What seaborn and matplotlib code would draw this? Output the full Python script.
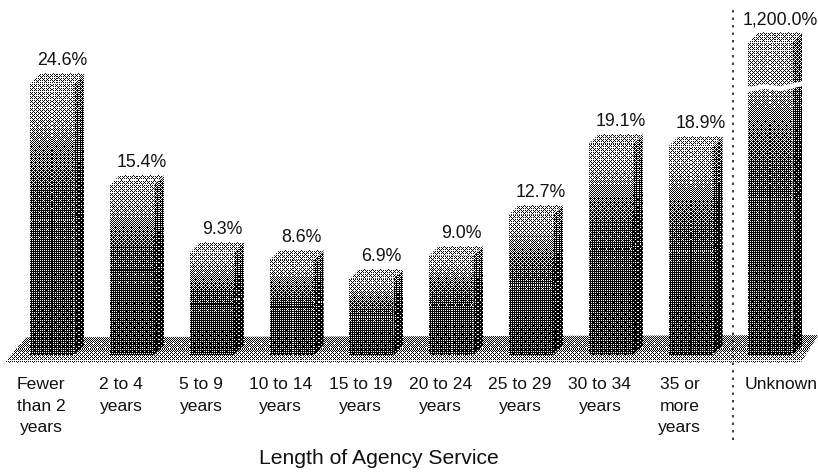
import numpy as np
import pandas as pd
import matplotlib.pyplot as plt
from matplotlib.patches import Polygon
import seaborn as sns

categories = ["Fewer\nthan 2\nyears", "2 to 4\nyears", "5 to 9\nyears", "10 to 14\nyears",
              "15 to 19\nyears", "20 to 24\nyears", "25 to 29\nyears", "30 to 34\nyears",
              "35 or\nmore\nyears", "Unknown"]
# Unknown bar is on a broken axis, so its drawn height is not its label
heights = [24.6, 15.4, 9.3, 8.6, 6.9, 9.0, 12.7, 19.1, 18.9, 28.3]
value_labels = ["24.6%", "15.4%", "9.3%", "8.6%", "6.9%", "9.0%", "12.7%", "19.1%", "18.9%", "1,200.0%"]
xlabel = "Length of Agency Service"

W, H = 818, 476
px_x = 79.8
px_y = 11.05
x0 = 52.3
y0 = 355

b4 = np.array([[0, 8, 2, 10], [12, 4, 14, 6], [3, 11, 1, 9], [15, 7, 13, 5]])
bayer = (np.block([[4 * b4, 4 * b4 + 2], [4 * b4 + 3, 4 * b4 + 1]]) + 0.5) / 64


def dither(grey):
    rows, cols = grey.shape
    mask = np.tile(bayer, (rows // 8 + 1, cols // 8 + 1))[:rows, :cols]
    return (grey > mask).astype(float)


def fill_face(ax, pts, grey):
    # stippled fill inside a polygon, like the scanned original
    pts = np.array(pts)
    x1, x2 = pts[:, 0].min(), pts[:, 0].max()
    y1, y2 = pts[:, 1].min(), pts[:, 1].max()
    rows = max(int((y2 - y1) * px_y), 2)
    cols = max(int((x2 - x1) * px_x), 2)
    img = dither(np.tile(grey(np.linspace(0, 1, rows))[:, None], (1, cols)))
    im = ax.imshow(img, cmap="gray", vmin=0, vmax=1, extent=[x1, x2, y1, y2], origin="upper",
                   aspect="auto", interpolation="nearest", zorder=3)
    im.set_clip_path(Polygon(pts, transform=ax.transData))


def front_grey(t):
    return np.interp(t, [0, 0.12, 0.42, 1], [0.68, 0.62, 0.28, 0.2])


def side_grey(t):
    return np.interp(t, [0, 0.4, 1], [0.42, 0.16, 0.1])


def top_grey(t):
    return np.full_like(t, 0.66)


sns.set_style("white")
plt.rcParams["font.family"] = ["Liberation Sans", "DejaVu Sans"]

df = pd.DataFrame({"cat": categories, "val": heights})
fig = plt.figure(figsize=(W / 100, H / 100), dpi=100)
ax = fig.add_axes([0, 0, 1, 1])
sns.barplot(data=df, x="cat", y="val", ax=ax, width=44 / px_x, color="#555555", saturation=1)
ax.set_xlim(-x0 / px_x, (W - x0) / px_x)
ax.set_ylim(-(H - y0) / px_y, y0 / px_y)
ax.axis("off")

dx = 10 / px_x
dy = 10 / px_y

# floor
floor = [(-0.6, -0.7), (9.38, -0.7), (9.6, 1.8), (-0.33, 1.6)]
fill_face(ax, floor, lambda t: np.interp(t, [0, 0.5, 1], [0.5, 0.55, 0.72]))

for bar, label, val in zip(ax.patches, value_labels, heights):
    left = bar.get_x()
    right = left + bar.get_width()
    top = bar.get_height()
    bar.set_visible(False)
    fill_face(ax, [(left, 0), (right, 0), (right, top), (left, top)], front_grey)
    fill_face(ax, [(right, 0), (right + dx, dy), (right + dx, top + dy), (right, top)], side_grey)
    fill_face(ax, [(left, top), (right, top), (right + dx, top + dy), (left + dx, top + dy)], top_grey)
    ax.text((left + right) / 2 + 10 / px_x, top + 22.5 / px_y, label, ha="center", va="center",
            fontsize=12.8, color="#111111", zorder=5)

# axis break across the Unknown bar
brk = ax.patches[-1]
brk_x = np.array([brk.get_x() - 0.02, brk.get_x() + 0.2, brk.get_x() + 0.4, brk.get_x() + brk.get_width() + dx + 0.02])
ax.plot(brk_x, [24.0, 24.3, 24.1, 24.6], color="white", lw=3.5, zorder=4)

for i, cat in enumerate(categories):
    shift = 11 if cat == "Unknown" else -11
    ax.text(i + shift / px_x, -22 / px_y, cat, ha="center", va="top", fontsize=12.6,
            linespacing=1.56, color="#111111", zorder=5)

ax.vlines((733 - x0) / px_x, -(440 - y0) / px_y, (y0 - 8) / px_y, color="#222222", lw=1.2,
          linestyles=(0, (1.5, 3)), zorder=6)
ax.text((379 - x0) / px_x, -(458 - y0) / px_y, xlabel, ha="center", va="center", fontsize=15.2,
        color="#111111", zorder=5)

fig.savefig("out.png", dpi=100)
